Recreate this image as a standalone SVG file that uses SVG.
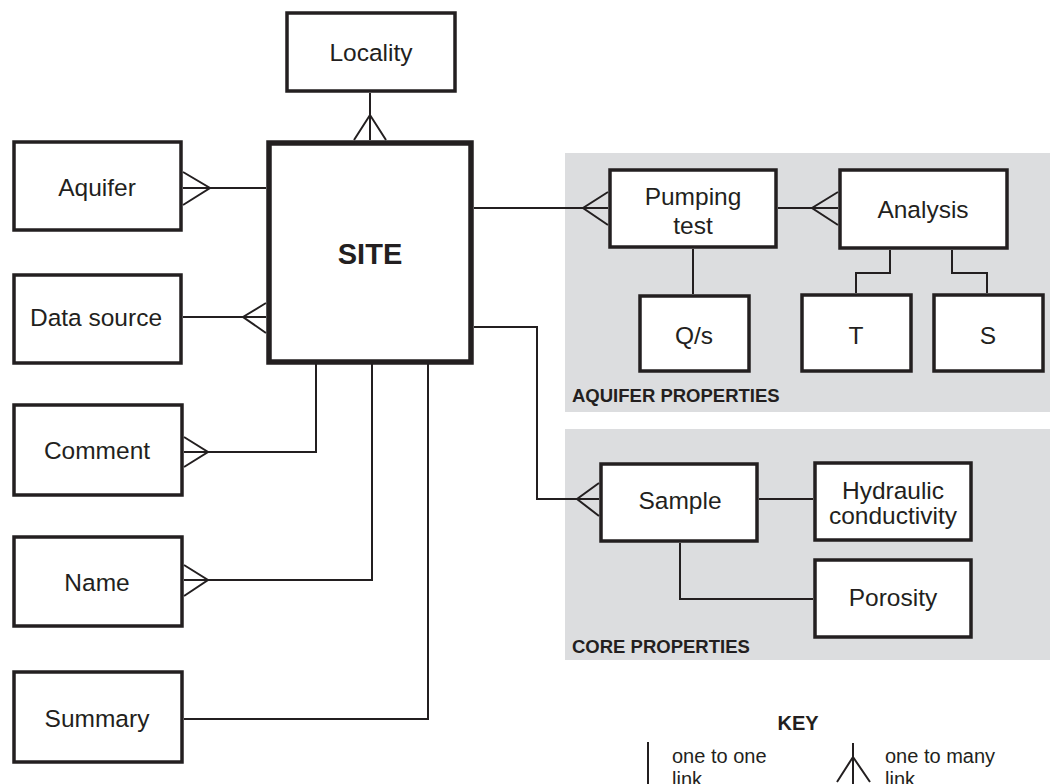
<svg xmlns="http://www.w3.org/2000/svg" width="1050" height="784" viewBox="0 0 1050 784">
  <style>
    .box { fill: #ffffff; stroke: #231f20; stroke-width: 3.5; }
    .site { fill: #ffffff; stroke: #231f20; stroke-width: 5.5; }
    .panel { fill: #dcdddf; stroke: none; }
    .link { fill: none; stroke: #231f20; stroke-width: 2; }
    .label { font-family: "Liberation Sans", Arial, sans-serif; font-size: 24.5px; fill: #231f20; text-anchor: middle; }
    .title { font-family: "Liberation Sans", Arial, sans-serif; font-size: 29px; font-weight: bold; fill: #231f20; text-anchor: middle; }
    .group { font-family: "Liberation Sans", Arial, sans-serif; font-size: 18.5px; font-weight: bold; fill: #231f20; }
    .key { font-family: "Liberation Sans", Arial, sans-serif; font-size: 20px; fill: #231f20; }
  </style>

  <!-- shaded property groups -->
  <rect class="panel" x="565" y="153" width="485" height="259"/>
  <rect class="panel" x="565" y="429" width="485" height="231"/>
  <text class="group" x="572" y="402">AQUIFER PROPERTIES</text>
  <text class="group" x="572" y="653">CORE PROPERTIES</text>

  <!-- connectors -->
  <g id="connectors">
    <path class="link" d="M370,93 V140 M354,140 L370,115 L386,140"/>
    <path class="link" d="M183,188 H266 M183,172 L210,188 L183,205"/>
    <path class="link" d="M183,317 H266 M266,303 L243,317 L266,333"/>
    <path class="link" d="M184,452 H316 V364 M184,437 L208,452 L184,467"/>
    <path class="link" d="M184,580 H372 V364 M184,565 L208,580 L184,596"/>
    <path class="link" d="M184,719 H428 V364"/>
    <path class="link" d="M474,208 H608 M608,192 L583,208 L608,225"/>
    <path class="link" d="M693,249 V294"/>
    <path class="link" d="M778,208 H838 M838,192 L812,208 L838,225"/>
    <path class="link" d="M890,250 V273 H856 V293"/>
    <path class="link" d="M952,250 V273 H987 V293"/>
    <path class="link" d="M474,327 H537 V499 H599 M599,483 L577,499 L599,516"/>
    <path class="link" d="M759,499 H813"/>
    <path class="link" d="M680,543 V599 H813"/>
  </g>

  <!-- entities -->
  <g id="locality">
    <rect class="box" x="287" y="13" width="168" height="78"/>
    <text class="label" x="371" y="61">Locality</text>
  </g>
  <g id="site">
    <rect class="site" x="269" y="143" width="202" height="219"/>
    <text class="title" x="370" y="264">SITE</text>
  </g>
  <g id="aquifer">
    <rect class="box" x="14" y="142" width="167" height="88"/>
    <text class="label" x="97" y="196">Aquifer</text>
  </g>
  <g id="data-source">
    <rect class="box" x="14" y="275" width="167" height="88"/>
    <text class="label" x="96" y="326">Data source</text>
  </g>
  <g id="comment">
    <rect class="box" x="14" y="405" width="168" height="90"/>
    <text class="label" x="97" y="459">Comment</text>
  </g>
  <g id="name">
    <rect class="box" x="14" y="537" width="168" height="89"/>
    <text class="label" x="97" y="591">Name</text>
  </g>
  <g id="summary">
    <rect class="box" x="14" y="672" width="168" height="90"/>
    <text class="label" x="97" y="727">Summary</text>
  </g>
  <g id="pumping-test">
    <rect class="box" x="610" y="170" width="166" height="77"/>
    <text class="label" x="693" y="205">Pumping</text>
    <text class="label" x="693" y="234">test</text>
  </g>
  <g id="qs">
    <rect class="box" x="640" y="296" width="109" height="75"/>
    <text class="label" x="694" y="344">Q/s</text>
  </g>
  <g id="analysis">
    <rect class="box" x="840" y="170" width="167" height="78"/>
    <text class="label" x="923" y="218">Analysis</text>
  </g>
  <g id="t">
    <rect class="box" x="802" y="295" width="109" height="76"/>
    <text class="label" x="856" y="344">T</text>
  </g>
  <g id="s">
    <rect class="box" x="934" y="295" width="109" height="76"/>
    <text class="label" x="988" y="344">S</text>
  </g>
  <g id="sample">
    <rect class="box" x="601" y="464" width="156" height="77"/>
    <text class="label" x="680" y="509">Sample</text>
  </g>
  <g id="hydraulic-conductivity">
    <rect class="box" x="815" y="463" width="156" height="77"/>
    <text class="label" x="893" y="499">Hydraulic</text>
    <text class="label" x="893" y="524">conductivity</text>
  </g>
  <g id="porosity">
    <rect class="box" x="815" y="560" width="156" height="77"/>
    <text class="label" x="893" y="606">Porosity</text>
  </g>

  <!-- key -->
  <g id="key">
    <text class="key" x="798" y="730" text-anchor="middle" font-weight="bold">KEY</text>
    <path class="link" d="M648,742 V784"/>
    <text class="key" x="672" y="763">one to one</text>
    <text class="key" x="672" y="786">link</text>
    <path class="link" d="M853,743 V784 M837,782 L853,757 L870,782"/>
    <text class="key" x="885" y="763">one to many</text>
    <text class="key" x="885" y="786">link</text>
  </g>
</svg>
